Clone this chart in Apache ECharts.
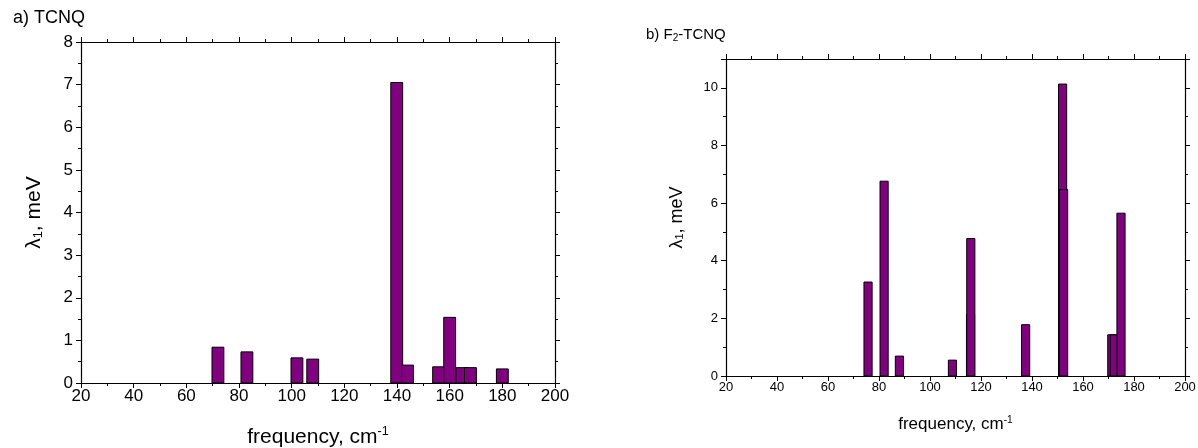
<!DOCTYPE html>
<html>
<head>
<meta charset="utf-8">
<script src="https://cdn.jsdelivr.net/npm/echarts@6/dist/echarts.min.js"></script>
<style>html,body{margin:0;padding:0;background:#fff;}#c{width:1198px;height:448px;}</style>
</head>
<body>
<div id="c"></div>
<script>
// Panel a) TCNQ
const freqA = [72, 83, 102, 108, 139.9, 144, 155.8, 160, 164.7, 167.9, 180];
const lamA  = [0.84, 0.73, 0.59, 0.56, 7.05, 0.42, 0.38, 1.54, 0.36, 0.36, 0.33];
// Panel b) F2-TCNQ
const freqB = [75.7, 82, 88, 108.8, 115.9, 116.0, 137.5, 152, 152.4, 171.3, 172.3, 174.9];
const lamB  = [3.26, 6.76, 0.69, 0.55, 2.13, 4.77, 1.78, 10.13, 6.47, 1.43, 1.43, 5.65];
const xTicks = [20, 200, 20];   // min, max, interval
const yTicksA = [0, 8, 1];
const yTicksB = [0, 11, 2];

const FONT = 'Liberation Sans, Arial, sans-serif';
const chart = echarts.init(document.getElementById('c'));

function barRender(w) {
  return function (params, api) {
    const x = api.value(0), y = api.value(1);
    const p1 = api.coord([x - w / 2, y]);
    const p0 = api.coord([x + w / 2, 0]);
    return {
      type: 'rect',
      shape: { x: p1[0], y: p1[1], width: p0[0] - p1[0], height: p0[1] - p1[1] },
      style: { fill: '#800080', stroke: '#000', lineWidth: 1 }
    };
  };
}

function xAx(grid, pos, show, fs, nameFs, nameGap) {
  return {
    type: 'value', gridIndex: grid, position: pos,
    min: xTicks[0], max: xTicks[1], interval: xTicks[2],
    axisLine: { show: true, onZero: false, lineStyle: { color: '#000', width: 1.2 } },
    axisTick: { show: true, inside: false, length: 5, lineStyle: { color: '#000' } },
    minorTick: { show: true, splitNumber: 2, length: 3, lineStyle: { color: '#000' } },
    splitLine: { show: false },
    axisLabel: { show: show, color: '#000', fontSize: fs, fontFamily: FONT, margin: 5 },
    name: show ? '{a|frequency, cm}{s|-1}' : '',
    nameLocation: 'middle', nameGap: nameGap,
    nameTextStyle: { rich: {
      a: { fontSize: nameFs, fontFamily: FONT, color: '#000' },
      s: { fontSize: nameFs * 0.6, fontFamily: FONT, color: '#000', verticalAlign: 'top', padding: [0, 0, nameFs * 0.5, 0] }
    } }
  };
}

function yAx(grid, pos, show, t, minorSplit, fs, nameFs, nameGap) {
  return {
    type: 'value', gridIndex: grid, position: pos,
    min: t[0], max: t[1], interval: t[2],
    axisLine: { show: true, onZero: false, lineStyle: { color: '#000', width: 1.2 } },
    axisTick: { show: true, inside: false, length: 5, lineStyle: { color: '#000' } },
    minorTick: { show: true, splitNumber: minorSplit, length: 3, lineStyle: { color: '#000' } },
    splitLine: { show: false },
    axisLabel: { show: show, color: '#000', fontSize: fs, fontFamily: FONT, margin: 8,
      formatter: function (v) { return (v % t[2] === 0) ? String(v) : ''; } },
    name: show ? '{a|λ}{s|1}{a|, meV}' : '',
    nameLocation: 'middle', nameGap: nameGap, nameRotate: 90,
    nameTextStyle: { rich: {
      a: { fontSize: nameFs, fontFamily: FONT, color: '#000' },
      s: { fontSize: nameFs * 0.6, fontFamily: FONT, color: '#000', verticalAlign: 'bottom', padding: [nameFs * 0.4, 0, 0, 0] }
    } }
  };
}

chart.setOption({
  animation: false,
  backgroundColor: '#fff',
  title: [
    { text: 'a) TCNQ', left: 8, top: 4, textStyle: { fontSize: 18, fontWeight: 'normal', fontFamily: FONT, color: '#000' } },
    { text: '{a|b) F}{s|2}{a|-TCNQ}', left: 641, top: 21, textStyle: { fontWeight: 'normal', rich: {
      a: { fontSize: 15, fontWeight: 'normal', fontFamily: FONT, color: '#000' },
      s: { fontSize: 10, fontWeight: 'normal', fontFamily: FONT, color: '#000', verticalAlign: 'bottom', padding: [7, 0, 0, 0] }
    } } }
  ],
  grid: [
    { left: 81, right: 643, top: 42, bottom: 65, containLabel: false, outerBoundsMode: 'none' },
    { left: 726, right: 13, top: 59, bottom: 72, containLabel: false, outerBoundsMode: 'none' }
  ],
  xAxis: [
    xAx(0, 'bottom', true, 17, 21, 42),
    xAx(0, 'top', false, 17, 21, 30),
    xAx(1, 'bottom', true, 13, 17, 39),
    xAx(1, 'top', false, 13, 17, 26)
  ],
  yAxis: [
    yAx(0, 'left', true, yTicksA, 2, 17, 21, 36),
    yAx(0, 'right', false, yTicksA, 2, 17, 21, 30),
    yAx(1, 'left', true, yTicksB, 2, 13, 18, 40),
    yAx(1, 'right', false, yTicksB, 2, 13, 18, 30)
  ],
  series: [
    { type: 'custom', xAxisIndex: 0, yAxisIndex: 0, renderItem: barRender(4.5),
      data: freqA.map((f, i) => [f, lamA[i]]) },
    { type: 'custom', xAxisIndex: 2, yAxisIndex: 2, renderItem: barRender(3.2),
      data: freqB.map((f, i) => [f, lamB[i]]) }
  ]
});
</script>
</body>
</html>
